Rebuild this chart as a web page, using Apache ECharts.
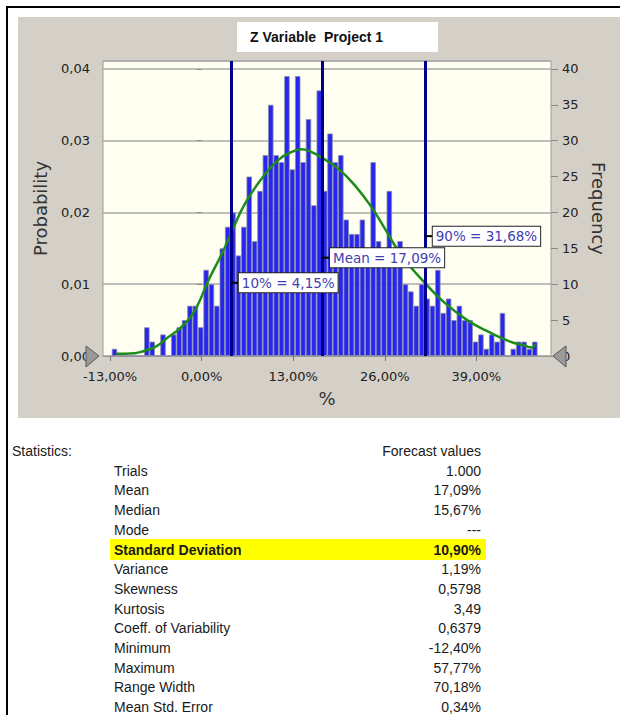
<!DOCTYPE html>
<html>
<head>
<meta charset="utf-8">
<script src="https://cdn.jsdelivr.net/npm/echarts@6/dist/echarts.min.js"></script>
<style>
  body { margin: 0; background: #fff; width: 620px; height: 715px; overflow: hidden; position: relative; }
  .panel { position: absolute; left: 18px; top: 17px; width: 602px; height: 401px; background: #D4D0C8; }
  .frameTop { position: absolute; left: 6px; top: 6px; width: 614px; height: 2px; background: #000; }
  .frameLeft { position: absolute; left: 6px; top: 6px; width: 2px; height: 709px; background: #000; }
  #chart { position: absolute; left: 0; top: 0; width: 620px; height: 420px; }
  #stats { position: absolute; left: 0; top: 0; width: 620px; height: 715px; font-family: "Liberation Sans", Arial, sans-serif; font-size: 14px; color: #1a1a1a; }
  #stats div { position: absolute; line-height: 20px; height: 20px; white-space: nowrap; }
</style>
</head>
<body>
<div class="panel"></div>
<div class="frameTop"></div>
<div class="frameLeft"></div>
<div id="chart"></div>
<div id="stats"></div>
<script>
// histogram bins (percent) and frequencies per bin
const binStart = -12.75;
const binWidth = 0.765;
const freq = [
  1, 0, 0, 0, 0, 0, 4, 2, 0, 3,
  0, 3, 4, 5, 7, 7, 4, 12, 10, 7,
  15, 18, 20, 14, 18, 25, 16, 23, 28, 35,
  28, 27, 39, 26, 39, 27, 33, 21, 37, 23,
  31, 27, 28, 19, 17, 17, 19, 14, 27, 16,
  15, 23, 15, 16, 10, 9, 7, 10, 8, 7,
  12, 6, 8, 5, 7, 5, 5, 2, 3, 1,
  3, 2, 6, 0, 1, 2, 2, 1, 2
];

// fitted curve (frequency units)
const curveX = [-12.1, -9.5, -8.2, -6.5, -4.9, -3.0, -1.5, -0.5, 1.0, 2.9, 4.4, 6.2, 8.6, 11.0, 13.0, 14.2, 15.4, 17.1, 19.5, 21.9, 24.2, 26.1, 27.5, 29.5, 31.5, 34.4, 37.7, 40.5, 43.8, 45.7, 46.8, 47.4];
const curveY = [0.3, 0.4, 0.7, 1.3, 2.5, 3.9, 5.5, 7.2, 10.6, 14.3, 17.6, 21.3, 24.8, 27.4, 28.5, 28.8, 28.5, 27.6, 26.0, 23.6, 20.6, 17.6, 15.3, 12.6, 10.4, 7.5, 5.0, 3.5, 2.0, 1.5, 1.2, 1.6];

// percentile markers
const markerNames = ['10%', 'Mean', '90%'];
const markerValues = [4.15, 17.09, 31.68];
const markerLabelY = [10.2, 13.7, 16.7];

const xTicks = [-13, 0, 13, 26, 39];

// statistics table
const statLabels = ['Trials', 'Mean', 'Median', 'Mode', 'Standard Deviation', 'Variance', 'Skewness', 'Kurtosis', 'Coeff. of Variability', 'Minimum', 'Maximum', 'Range Width', 'Mean Std. Error'];
const statValues = ['1.000', '17,09%', '15,67%', '---', '10,90%', '1,19%', '0,5798', '3,49', '0,6379', '-12,40%', '57,77%', '70,18%', '0,34%'];
const highlightRow = 4;

const fmtPct = v => v.toFixed(2).replace('.', ',') + '%';

// build table
const stats = document.getElementById('stats');
function addText(txt, css) {
  const d = document.createElement('div');
  d.textContent = txt;
  Object.assign(d.style, css);
  stats.appendChild(d);
  return d;
}
const rowTop0 = 441;
const rowH = 19.7;
addText('Statistics:', { left: '12px', top: rowTop0 + 'px' });
addText('Forecast values', { right: (620 - 481) + 'px', top: rowTop0 + 'px' });
statLabels.forEach((lab, i) => {
  const top = rowTop0 + rowH * (i + 1);
  if (i === highlightRow) {
    addText('', { left: '110px', top: (top - 1) + 'px', width: '376px', height: '21px', background: '#FFFF00' });
  }
  const bold = i === highlightRow ? 'bold' : 'normal';
  addText(lab, { left: '114px', top: top + 'px', fontWeight: bold });
  addText(statValues[i], { right: (620 - 481) + 'px', top: top + 'px', fontWeight: bold });
});

const barData = freq.map((f, i) => [binStart + binWidth * (i + 0.5), f]);
const curveData = curveX.map((x, i) => [x, curveY[i]]);

const font = 'DejaVu Sans';
var myChart = echarts.init(document.getElementById('chart'), null, { renderer: 'svg' });
const option = {
  animation: false,
  title: {
    text: 'Z Variable  Project 1',
    left: 237,
    top: 22,
    backgroundColor: '#fff',
    padding: [8, 55, 8, 13],
    textStyle: { fontFamily: 'Liberation Sans', fontSize: 14, fontWeight: 'bold', color: '#111' }
  },
  grid: {
    left: 103, right: 69, top: 61, bottom: 64,
    show: true, backgroundColor: '#FEFEF1', borderColor: '#9C9C9C', borderWidth: 1
  },
  xAxis: {
    type: 'value',
    min: -14,
    max: 49.6,
    name: '%',
    nameLocation: 'middle',
    nameGap: 33,
    nameTextStyle: { fontFamily: font, fontSize: 18, color: '#333' },
    axisLine: { lineStyle: { color: '#9C9C9C' } },
    axisTick: { show: true, customValues: xTicks, length: 5, lineStyle: { color: '#777' } },
    axisLabel: {
      customValues: xTicks, margin: 14,
      fontFamily: font, fontSize: 13, color: '#222',
      formatter: v => fmtPct(v)
    },
    splitLine: { show: false }
  },
  yAxis: [
    {
      type: 'value', position: 'left',
      min: 0, max: 0.0411, interval: 0.01,
      name: 'Probability', nameLocation: 'middle', nameGap: 54, nameRotate: 90,
      nameTextStyle: { fontFamily: font, fontSize: 18, color: '#333' },
      axisLine: { show: false },
      axisTick: { show: true, length: 5, lineStyle: { color: '#888' } },
      axisLabel: {
        margin: 13, fontFamily: font, fontSize: 13, color: '#222', showMaxLabel: false,
        formatter: v => v.toFixed(2).replace('.', ',')
      },
      splitLine: { show: true, lineStyle: { color: '#A8A8A8', width: 1.5 } }
    },
    {
      type: 'value', position: 'right',
      min: 0, max: 41.1, interval: 5,
      name: 'Frequency', nameLocation: 'middle', nameGap: 36, nameRotate: -90,
      nameTextStyle: { fontFamily: font, fontSize: 18, color: '#333' },
      axisLine: { show: false },
      axisTick: { show: true, length: 7, lineStyle: { color: '#888' } },
      axisLabel: { margin: 11, fontFamily: font, fontSize: 13, color: '#222', showMaxLabel: false },
      splitLine: { show: false }
    }
  ],
  series: [
    {
      type: 'bar',
      name: 'Frequency',
      yAxisIndex: 1,
      data: barData,
      barWidth: 5.4,
      itemStyle: { color: '#2626EE', borderColor: '#8C8CA8', borderWidth: 0.8 },
      markLine: {
        silent: true,
        symbol: ['none', 'none'],
        label: { show: false },
        lineStyle: { color: '#00008C', width: 3, type: 'solid' },
        data: markerValues.map(v => ({ xAxis: v }))
      },
      z: 2
    },
    {
      type: 'line',
      name: 'Fit',
      yAxisIndex: 1,
      data: curveData,
      smooth: true,
      showSymbol: false,
      lineStyle: { color: '#1C8C1C', width: 2.5 },
      z: 3
    },
    {
      type: 'scatter',
      name: 'Markers',
      yAxisIndex: 1,
      data: [],
      markPoint: {
        symbol: 'rect',
        symbolSize: [8, 2],
        symbolOffset: [4, 0],
        itemStyle: { color: '#000' },
        label: {
          show: true, position: 'right', distance: 0,
          fontFamily: font, fontSize: 13.5, color: '#4040B0',
          backgroundColor: '#fff', borderColor: '#222', borderWidth: 1,
          padding: [3, 3, 2, 3],
          formatter: p => p.name
        },
        data: markerValues.map((v, i) => ({
          name: markerNames[i] + ' = ' + fmtPct(v),
          coord: [v, markerLabelY[i]]
        }))
      },
      z: 5
    }
  ],
  graphic: [
    {
      type: 'polygon', z: 100,
      shape: { points: [[86, 346], [99, 356], [86, 367]] },
      style: { fill: '#9A9A9A', stroke: '#555', lineWidth: 1 }
    },
    {
      type: 'polygon', z: 100,
      shape: { points: [[566, 346], [553, 356], [566, 367]] },
      style: { fill: '#9A9A9A', stroke: '#555', lineWidth: 1 }
    }
  ]
};
myChart.setOption(option);
</script>
</body>
</html>
